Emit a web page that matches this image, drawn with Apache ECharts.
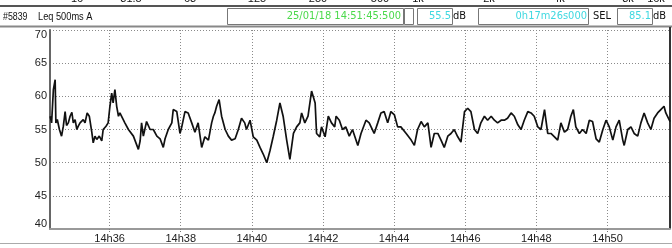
<!DOCTYPE html>
<html><head><meta charset="utf-8">
<script src="https://cdn.jsdelivr.net/npm/echarts@6/dist/echarts.min.js"></script>
<style>html,body{margin:0;padding:0;background:#fff}#c{width:672px;height:248px}</style>
</head><body><div id="c"></div>
<script>
// time in minutes after 14:00, level in dB(A)
const times = [34.33,34.37,34.42,34.47,34.49,34.53,34.59,34.65,34.70,34.75,34.79,34.84,34.89,34.94,34.98,35.03,35.08,35.12,35.17,35.26,35.31,35.37,35.43,35.50,35.54,35.59,35.64,35.71,35.78,35.82,35.90,35.96,36.01,36.06,36.10,36.15,36.20,36.25,
36.29,36.43,36.53,36.67,36.81,36.86,36.90,36.95,37.04,37.14,37.23,37.33,37.42,37.51,37.56,37.65,37.75,37.79,37.89,37.98,38.03,38.12,38.21,38.31,38.40,38.49,38.59,38.68,38.78,38.87,38.92,38.96,39.01,39.08,39.15,39.25,39.34,39.43,39.53,39.62,39.71,39.80,39.85,39.95,40.04,40.14,40.23,40.32,40.42,40.51,40.60,40.70,40.79,40.88,40.98,41.07,41.17,41.26,41.35,41.40,41.49,41.58,41.68,41.78,41.82,41.91,41.96,42.06,42.15,42.24,42.33,
42.37,42.46,42.55,42.64,42.74,42.83,42.98,43.07,43.21,43.30,43.44,43.54,43.63,43.72,43.82,43.91,44.01,44.10,44.19,44.34,44.48,44.57,44.66,44.76,44.85,44.95,45.04,45.13,45.23,45.32,45.41,45.51,45.60,45.69,45.79,45.88,45.98,46.07,46.16,46.26,46.35,46.44,46.54,46.63,46.73,46.82,46.91,47.01,47.10,47.19,47.29,47.38,47.48,47.57,47.66,47.76,47.85,47.94,48.04,48.13,48.23,48.32,48.41,48.51,48.60,48.69,48.79,48.88,48.97,49.04,49.11,49.21,49.30,49.40,49.49,49.58,49.68,49.77,49.87,49.96,50.05,50.15,50.24,50.33,50.43,50.47,50.57,50.66,50.75,50.85,50.94,51.03,51.13,51.22,51.31,51.41,51.50,51.59,51.64,51.74,51.76];
const levels = [57,56,61,62.5,56,56.5,55,54,55.5,57.7,55.6,56,57,57.6,56,56.5,55,55.5,56,56.5,56,57.5,57,54.6,53,54,53.5,54,53.3,55,55.5,56,58.5,60.5,59,61,58.5,57,
57.5,56,55,54,52,53.3,56,54,56.2,55,55,54,53.6,52.3,53.6,55,56,58,57.7,54.4,55.4,57.7,57.5,56,54.6,56,52.3,53.9,53.4,56,57,57.5,58.5,59.5,57,55,54,53.4,53.6,55,56.7,56,55,56.4,53.9,53.4,52.3,51.3,50,51.8,53.9,56.4,59,57,53.4,50.5,54.4,55.4,56,57.5,56,57,60.8,59,54.4,53.9,55.4,53.9,57,56,55.4,
57,56.4,55,55.4,54,55,52.6,54.4,56.4,56,54.4,56,57.5,57.7,56,57.7,57.2,55.4,55.4,54.4,53.4,52.6,55,56.2,55.4,56,52.3,54.4,54.4,53.4,52.3,54,54.4,55,53.9,53.1,57.7,58.2,57.7,55,54.4,56,57,56.4,57,56.4,56,56.4,56.4,56.7,57.5,57,55.7,55,56.4,57.7,57.5,57,55.4,55,58,54.4,54.4,53.9,53.4,56,54.6,55,57,58,55.4,54.4,55,54.4,56.4,56.2,53.6,53.1,55,56.4,55.4,53.4,55.4,56.4,53.4,52.6,55,55.4,54.4,54,56,57.5,56,55,56.7,57.5,58,58.5,57.5,56.4,56.2];
const startMinute = 34.325;   // 14:34:19.5
const endMinute = 51.758;     // 14:51:45.5
const yMin = 40, yMax = 70, yStep = 5;
const xTickMinutes = [36,38,40,42,44,46,48,50];
const freqLabels = ['16','31.5','63','125','250','500','1k','2k','4k','8k','16k'];
const headerLeft = ['#5839','Leq 500ms A'];
const headerDate = '25/01/18 14:51:45:500';
const headerLeq = '55.5';
const headerDur = '0h17m26s000';
const headerSel = '85.1';
const unitLabel = 'dB';
const selLabel = 'SEL';

const freqX = [77,131,190,257,318,380,418,489,559,628,656];
const GREEN = '#4bd94b', CYAN = '#3fd8e0';
const NARROW = '"DejaVu Sans Condensed","Liberation Sans",Arial,sans-serif';
const SANS = '"Liberation Sans",Arial,sans-serif';

const data = times.map((t,i)=>[t, levels[i]]);
const chart = echarts.init(document.getElementById('c'), null, {renderer:'canvas'});

const graphics = [];
freqLabels.forEach((f,i)=>graphics.push({type:'text', x:freqX[i], y:-7, style:{text:f, fill:'#111', font:'11px '+SANS, align:'center', verticalAlign:'top'}}));
graphics.push({type:'line', shape:{x1:0,y1:6,x2:672,y2:6}, style:{stroke:'#555', lineWidth:2}});
graphics.push({type:'text', x:3, y:16.5, scaleX:0.8, style:{text:headerLeft[0], fill:'#111', font:'11px '+SANS, verticalAlign:'middle'}});
graphics.push({type:'text', x:38, y:16.5, scaleX:0.84, style:{text:headerLeft[1], fill:'#111', font:'11px '+SANS, verticalAlign:'middle'}});
function box(x,w){graphics.push({type:'rect', shape:{x:x+0.5,y:8.5,width:w,height:16}, style:{fill:'#fff', stroke:'#777', lineWidth:1}});}
box(227,176); box(404,9); box(417,35); box(478,110); box(617,35);
graphics.push({type:'text', x:401, y:16.5, style:{text:headerDate, fill:GREEN, font:'11px '+NARROW, align:'right', verticalAlign:'middle'}});
graphics.push({type:'text', x:451, y:16.5, style:{text:headerLeq, fill:CYAN, font:'11px '+NARROW, align:'right', verticalAlign:'middle'}});
graphics.push({type:'text', x:453, y:16.5, style:{text:unitLabel, fill:'#111', font:'11px '+NARROW, verticalAlign:'middle'}});
graphics.push({type:'text', x:587, y:16.5, style:{text:headerDur, fill:CYAN, font:'11px '+NARROW, align:'right', verticalAlign:'middle'}});
graphics.push({type:'text', x:593, y:16.5, style:{text:selLabel, fill:'#111', font:'11px '+NARROW, verticalAlign:'middle'}});
graphics.push({type:'text', x:651, y:16.5, style:{text:headerSel, fill:CYAN, font:'11px '+NARROW, align:'right', verticalAlign:'middle'}});
graphics.push({type:'text', x:653, y:16.5, style:{text:unitLabel, fill:'#111', font:'11px '+NARROW, verticalAlign:'middle'}});
graphics.push({type:'line', shape:{x1:0,y1:26.5,x2:672,y2:26.5}, style:{stroke:'#888', lineWidth:2}});
graphics.push({type:'line', shape:{x1:670,y1:27,x2:670,y2:229}, style:{stroke:'#333', lineWidth:2}});
graphics.push({type:'line', shape:{x1:0,y1:243.5,x2:672,y2:243.5}, style:{stroke:'#aaa', lineWidth:1}});

const dotted = {color:'#8a8a8a', width:1, type:[1,2]};
chart.setOption({
  animation:false,
  backgroundColor:'#fff',
  grid:{left:50, right:2, top:30, bottom:19},
  xAxis:{type:'value', min:startMinute, max:endMinute,
    axisLine:{show:true, lineStyle:{color:'#999', width:2}},
    axisTick:{show:true, customValues:xTickMinutes, length:4, lineStyle:{color:'#777', type:[1,1]}},
    axisLabel:{customValues:xTickMinutes, formatter:v=>'14h'+Math.round(v), color:'#222', fontSize:11, fontFamily:SANS, margin:4},
    splitLine:{show:true, lineStyle:dotted}},
  yAxis:{type:'value', min:yMin, max:yMax, interval:yStep,
    axisLine:{show:true, lineStyle:{color:'#666', width:2}},
    axisTick:{show:false},
    axisLabel:{color:'#222', fontSize:11, fontFamily:SANS, margin:3,
      formatter:v=> v===yMax ? '{t|'+v+'}' : (v===yMin ? '{b|'+v+'}' : String(v)),
      rich:{t:{padding:[10,0,0,0], fontSize:11, color:'#222'}, b:{padding:[0,0,10,0], fontSize:11, color:'#222'}}},
    splitLine:{show:true, lineStyle:dotted}},
  series:[{type:'line', data:data, showSymbol:false, symbol:'none', lineStyle:{color:'#111', width:1.7}, z:5}],
  graphic:graphics
});
</script></body></html>
